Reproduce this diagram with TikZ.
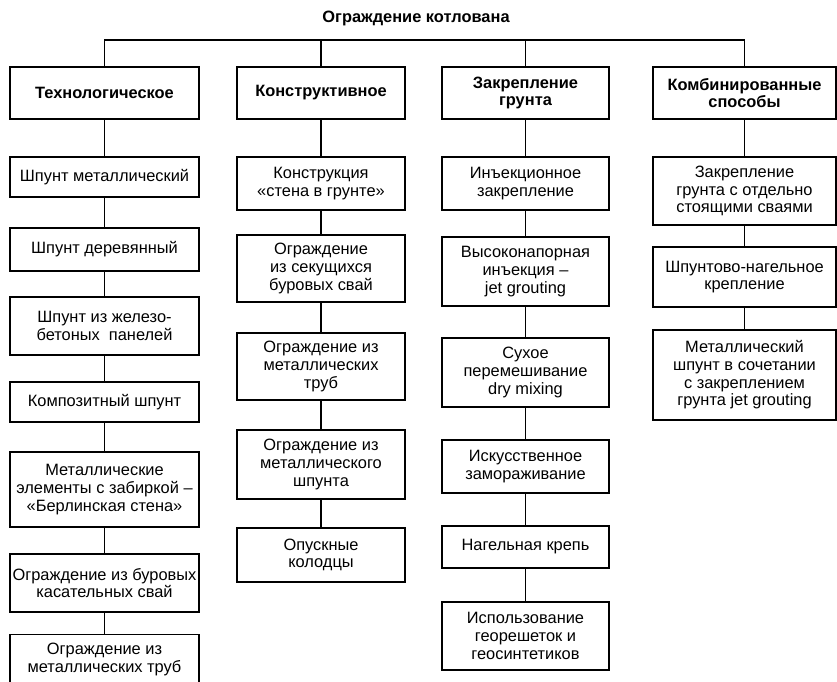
\documentclass[tikz,border=0pt]{standalone}
\usepackage{fontspec}
\setmainfont{Liberation Sans}
\begin{document}
\begin{tikzpicture}[x=1pt,y=-1pt,
  box/.style={draw, line width=1.1pt, align=center, inner sep=1pt, font=\fontsize{16.4}{17.6}\selectfont},
  head/.style={box, font=\bfseries\fontsize{16.4}{17.6}\selectfont},
  link/.style={line width=1.1pt},
  colA/.style={minimum width=189pt},
  colB/.style={minimum width=168pt},
  colC/.style={minimum width=167pt},
  colD/.style={minimum width=183pt}]
\useasboundingbox (0,0) rectangle (837,681);

\node[font=\bfseries\fontsize{16.4}{17.6}\selectfont] (title) at (416,18) {Ограждение котлована};
\coordinate (bar) at (0,40);

% headers
\node[head, colA, minimum height=52pt] (h1) at (104.5,93) {Технологическое};
\node[head, colB, minimum height=52pt] (h2) at (321,93) {Конструктивное};
\node[head, colC, minimum height=52pt] (h3) at (525.5,93) {Закрепление\\грунта};
\node[head, colD, minimum height=52pt] (h4) at (744.5,93) {Комбинированные\\способы};

% column 1
\node[box, colA, minimum height=40pt] (a1) at (104.5,177) {Шпунт металлический};
\node[box, colA, minimum height=43pt] (a2) at (104.5,249.5) {Шпунт деревянный};
\node[box, colA, minimum height=58pt] (a3) at (104.5,326) {Шпунт из железо-\\бетоных\ \ панелей};
\node[box, colA, minimum height=40pt] (a4) at (104.5,402) {Композитный шпунт};
\node[box, colA, minimum height=75pt] (a5) at (104.5,489.5) {Металлические\\элементы с забиркой –\\«Берлинская стена»};
\node[box, colA, minimum height=58pt] (a6) at (104.5,583) {Ограждение из буровых\\касательных свай};
\node[box, colA, minimum height=50pt, anchor=north] (a7) at (104.5,634) {Ограждение из\\металлических труб};

% column 2
\node[box, colB, minimum height=53pt] (b1) at (321,183.5) {Конструкция\\«стена в грунте»};
\node[box, colB, minimum height=67pt] (b2) at (321,268.5) {Ограждение\\из секущихся\\буровых свай};
\node[box, colB, minimum height=67pt] (b3) at (321,366.5) {Ограждение из\\металлических\\труб};
\node[box, colB, minimum height=69pt] (b4) at (321,464.5) {Ограждение из\\металлического\\шпунта};
\node[box, colB, minimum height=54pt] (b5) at (321,555) {Опускные\\колодцы};

% column 3
\node[box, colC, minimum height=53pt] (c1) at (525.5,183.5) {Инъекционное\\закрепление};
\node[box, colC, minimum height=69pt] (c2) at (525.5,271.5) {Высоконапорная\\инъекция –\\jet grouting};
\node[box, colC, minimum height=69pt] (c3) at (525.5,372.5) {Сухое\\перемешивание\\dry mixing};
\node[box, colC, minimum height=53pt] (c4) at (525.5,466.5) {Искусственное\\замораживание};
\node[box, colC, minimum height=42pt] (c5) at (525.5,547) {Нагельная крепь};
\node[box, colC, minimum height=68pt] (c6) at (525.5,636) {Использование\\георешеток и\\геосинтетиков};

% column 4
\node[box, colD, minimum height=68pt] (d1) at (744.5,191) {Закрепление\\грунта с отдельно\\стоящими сваями};
\node[box, colD, minimum height=60pt] (d2) at (744.5,277) {Шпунтово-нагельное\\крепление};
\node[box, colD, minimum height=90pt] (d3) at (744.5,375) {Металлический\\шпунт в сочетании\\с закреплением\\грунта jet grouting};

% top bar
\draw[link] (h1.north) -- (h1.north |- bar) -- (h4.north |- bar) -- (h4.north);
\draw[link] (h2.north) -- (h2.north |- bar);
\draw[link] (h3.north) -- (h3.north |- bar);

% vertical chains
\foreach \u/\v in {h1/a1,a1/a2,a2/a3,a3/a4,a4/a5,a5/a6,a6/a7,
                   h2/b1,b1/b2,b2/b3,b3/b4,b4/b5,
                   h3/c1,c1/c2,c2/c3,c3/c4,c4/c5,c5/c6,
                   h4/d1,d1/d2,d2/d3}
  \draw[link] (\u.south) -- (\v.north);
\end{tikzpicture}
\end{document}
